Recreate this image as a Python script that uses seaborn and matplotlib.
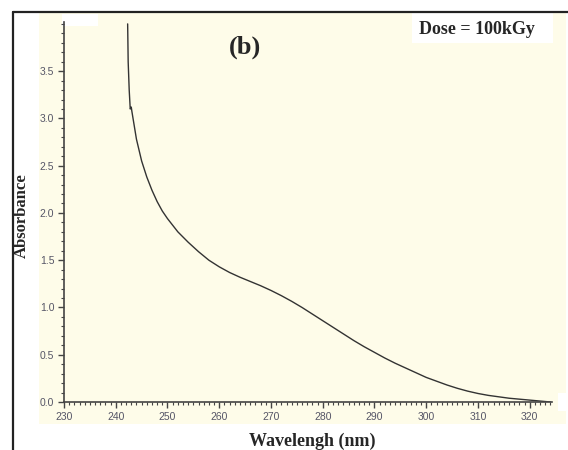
import numpy as np
import pandas as pd
import seaborn as sns
from matplotlib import pyplot as plt
from matplotlib.patches import Rectangle
from matplotlib.lines import Line2D
from matplotlib.ticker import MultipleLocator

# spectrum (Dose = 100 kGy)
wavelength = [242.3, 242.4, 242.6, 242.8, 243.0, 243.1, 244, 245, 246, 247,
              248, 249, 250, 252, 254, 256, 258, 260, 262, 264, 266, 268,
              270, 272, 274, 276, 278, 280, 282, 284, 286, 288, 290, 292,
              294, 296, 298, 300, 302, 304, 306, 308, 310, 312, 314, 316,
              318, 320, 322, 324]
absorbance = [4.00, 3.60, 3.30, 3.10, 3.12, 3.08, 2.78, 2.55, 2.38, 2.24,
              2.12, 2.02, 1.94, 1.80, 1.69, 1.59, 1.50, 1.43, 1.37, 1.32,
              1.275, 1.23, 1.18, 1.125, 1.065, 1.00, 0.93, 0.86, 0.79, 0.72,
              0.65, 0.585, 0.525, 0.465, 0.41, 0.36, 0.31, 0.26, 0.22, 0.18,
              0.145, 0.115, 0.09, 0.07, 0.055, 0.04, 0.03, 0.02, 0.01, 0.0]
x_ticks = [230, 240, 250, 260, 270, 280, 290, 300, 310, 320]
y_ticks = [0.0, 0.5, 1.0, 1.5, 2.0, 2.5, 3.0, 3.5]

df = pd.DataFrame({"wavelength": wavelength, "absorbance": absorbance})

sns.set_style("ticks")
plt.rcParams['font.family'] = ['Liberation Sans', 'DejaVu Sans']

W, H = 568, 450
fig = plt.figure(figsize=(5.68, 4.5), dpi=100)
fig.patch.set_facecolor("white")

def box(x0, y0, x1, y1, color):
    # pixel box (top-left origin) -> figure fraction, drawn under the axes
    fig.patches.append(Rectangle((x0 / W, 1 - y1 / H), (x1 - x0) / W, (y1 - y0) / H,
                                 transform=fig.transFigure, facecolor=color,
                                 edgecolor="none", zorder=-2))

box(39, 13, 566, 424, "#fefce9")
box(62, 14, 98, 26, "white")
box(412, 13, 553, 43, "white")
box(558, 393, 568, 411, "white")

# outer frame (left and top edges)
fig.lines.append(Line2D([13 / W, 13 / W], [0, 1 - 12 / H], transform=fig.transFigure,
                        color="#222222", lw=1.6, zorder=-1))
fig.lines.append(Line2D([13 / W, 1], [1 - 12 / H, 1 - 12 / H], transform=fig.transFigure,
                        color="#222222", lw=1.6, zorder=-1))

ax = fig.add_axes([64 / W, 1 - 402 / H, (552 - 64) / W, (402 - 22) / H])
ax.set_facecolor("none")
sns.lineplot(data=df, x="wavelength", y="absorbance", ax=ax, color="#333333",
             linewidth=1.0, sort=False)

ax.set_xlim(230, 324.3)
ax.set_ylim(0, 4.02)
ax.set_xticks(x_ticks)
ax.set_yticks(y_ticks)
ax.set_yticklabels([f"{v:.1f}" for v in y_ticks])
ax.xaxis.set_minor_locator(MultipleLocator(1))
ax.yaxis.set_minor_locator(MultipleLocator(0.1))
ax.tick_params(which="major", length=4, width=1, color="#444444",
               labelsize=7.5, labelcolor="#555566", pad=3)
ax.tick_params(which="minor", length=2, width=0.8, color="#444444")
for s in ["top", "right"]:
    ax.spines[s].set_visible(False)
for s in ["left", "bottom"]:
    ax.spines[s].set_color("#444444")
    ax.spines[s].set_linewidth(1.2)
ax.set_xlabel("")
ax.set_ylabel("")

serif = ['Liberation Serif', 'DejaVu Serif']
fig.text(245 / W, 1 - 47 / H, "(b)", family=serif, fontsize=19, weight="bold",
         ha="center", va="center")
fig.text(477 / W, 1 - 29 / H, "Dose = 100kGy", family=serif, fontsize=13,
         weight="bold", ha="center", va="center")
fig.text(22 / W, 1 - 216 / H, "Absorbance", family=serif, fontsize=12,
         weight="bold", rotation=90, ha="center", va="center")
fig.text(312 / W, 1 - 441 / H, "Wavelengh (nm)", family=serif, fontsize=13,
         weight="bold", ha="center", va="center")

fig.savefig("out.png", dpi=100)
